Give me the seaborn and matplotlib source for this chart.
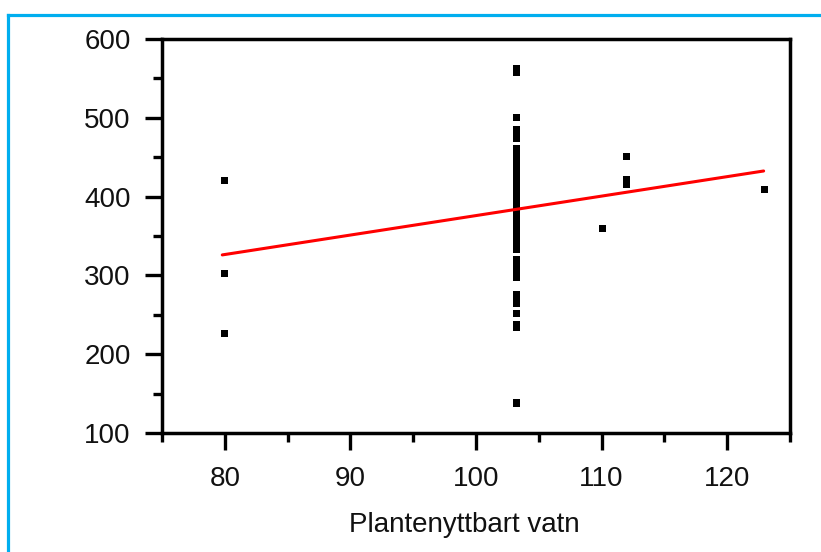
import matplotlib
matplotlib.use("Agg")
import matplotlib.pyplot as plt
from matplotlib.lines import Line2D
from matplotlib.ticker import MultipleLocator
import numpy as np
import pandas as pd
import seaborn as sns

# ---- data ----
x_80 = [80, 80, 80]
y_80 = [420, 302, 226]

x_col = [103.2] * 33
y_col = [562, 558, 500, 485, 480, 474,
         461, 454, 447, 440, 434, 427, 420, 413, 406, 400, 393, 386, 380,
         373, 366, 360, 353, 346, 340, 333,
         320, 313, 306, 298, 275, 270, 265]
x_col2 = [103.2] * 4
y_col2 = [252, 238, 234, 138]

x_right = [110.1, 112.0, 112.0, 112.0, 123.0]
y_right = [360, 451, 421, 416, 409]

fit_x = [79.8, 122.9]
fit_y = [326, 432.5]

xlabel = "Plantenyttbart vatn"
x_major = [80, 90, 100, 110, 120]
y_major = [100, 200, 300, 400, 500, 600]

points = pd.DataFrame({
    "x": x_80 + x_col + x_col2 + x_right,
    "y": y_80 + y_col + y_col2 + y_right,
})
fit = pd.DataFrame({"x": fit_x, "y": fit_y})

sns.set_theme(style="ticks")
plt.rcParams["font.family"] = ["Liberation Sans", "DejaVu Sans"]

W, H = 821, 552
fig = plt.figure(figsize=(W / 100, H / 100), dpi=100)
fig.patch.set_facecolor("white")
ax = fig.add_axes([162 / W, 1 - 433 / H, (790 - 162) / W, (433 - 39) / H])
ax.set_facecolor("white")

sns.scatterplot(data=points, x="x", y="y", marker="s", s=27, color="black",
                edgecolor="none", linewidth=0, ax=ax, zorder=3)
sns.lineplot(data=fit, x="x", y="y", color="#ff0000", linewidth=2.2, ax=ax,
             zorder=4)

ax.set_xlim(75, 125)
ax.set_ylim(100, 600)
ax.set_xticks(x_major)
ax.set_yticks(y_major)
ax.xaxis.set_minor_locator(MultipleLocator(5))
ax.yaxis.set_minor_locator(MultipleLocator(50))

for s in ax.spines.values():
    s.set_visible(True)
    s.set_linewidth(2.5)
    s.set_color("black")

ax.tick_params(which="major", direction="out", length=12.5, width=2.4,
               color="black", labelsize=20, labelcolor="#111111")
ax.tick_params(which="minor", direction="out", length=6.5, width=2.4,
               color="black")
ax.tick_params(axis="x", which="major", pad=11)
ax.tick_params(axis="y", which="major", pad=10)
ax.tick_params(top=False, right=False, which="both")

ax.set_ylabel("")
ax.set_xlabel(xlabel, fontsize=20, color="#111111")
ax.xaxis.set_label_coords((464 - 162) / (790 - 162), (433 - 532) / (433 - 39))
ax.xaxis.label.set_va("baseline")

# cyan frame (top and left)
cyan = "#00aeef"
fig.add_artist(Line2D([8.3 / W, 8.3 / W], [0, 1 - 15.3 / H], transform=fig.transFigure,
                      color=cyan, linewidth=2.3, solid_capstyle="projecting"))
fig.add_artist(Line2D([8.3 / W, 1], [1 - 15.3 / H, 1 - 15.3 / H], transform=fig.transFigure,
                      color=cyan, linewidth=2.3, solid_capstyle="projecting"))

fig.savefig("out.png", dpi=100, facecolor="white")
